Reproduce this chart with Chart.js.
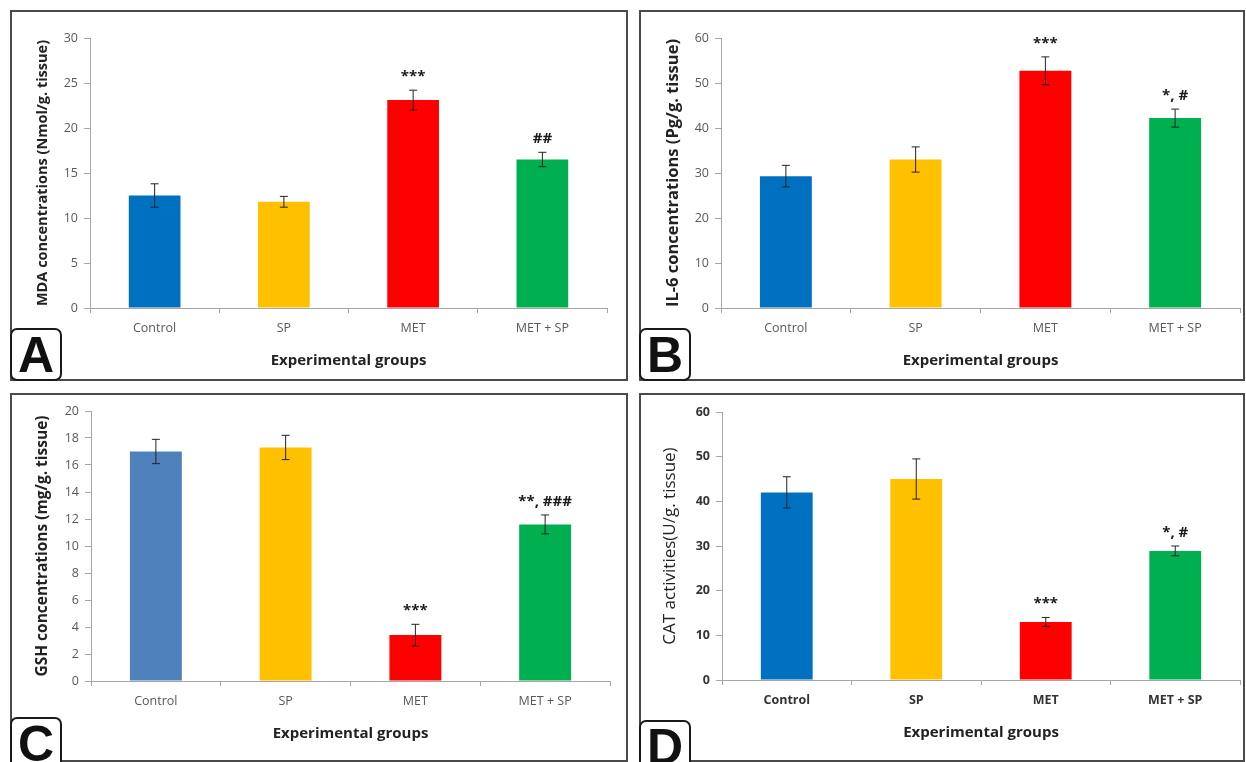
<!DOCTYPE html>
<html>
<head>
<meta charset="utf-8">
<script src="https://cdn.jsdelivr.net/npm/chart.js@4.4.0/dist/chart.umd.min.js"></script>
<style>
    html, body { margin: 0; padding: 0; background: #fff; overflow: hidden; }
    body { width: 1246px; height: 762px; position: relative; }
    .panel { position: absolute; }
    .frame { position: absolute; border: 2px solid #4a4a4a; box-sizing: border-box; pointer-events: none; }
    .letter {
        position: absolute; width: 52px; height: 53px; box-sizing: border-box;
        border: 2px solid #1a1a1a; border-radius: 7px; background: #fff;
        font: bold 50px "Liberation Sans", Arial, sans-serif; color: #111;
        display: flex; align-items: center; justify-content: center; line-height: 1;
    }
</style>
</head>
<body>
<script>
    // Groups on the x axis
    const groups = ['Control', 'SP', 'MET', 'MET + SP'];

    // A - MDA
    const mdaMeans = [12.5, 11.8, 23.1, 16.5];
    const mdaErrors = [1.3, 0.6, 1.1, 0.8];
    const mdaMarks = ['', '', '***', '##'];
    const mdaTicks = [0, 30, 5];

    // B - IL-6
    const il6Means = [29.3, 33.0, 52.7, 42.2];
    const il6Errors = [2.4, 2.8, 3.1, 2.0];
    const il6Marks = ['', '', '***', '*, #'];
    const il6Ticks = [0, 60, 10];

    // C - GSH
    const gshMeans = [17.0, 17.3, 3.4, 11.6];
    const gshErrors = [0.9, 0.9, 0.8, 0.7];
    const gshMarks = ['', '', '***', '**, ###'];
    const gshTicks = [0, 20, 2];

    // D - CAT
    const catMeans = [42.0, 45.0, 13.0, 28.9];
    const catErrors = [3.5, 4.5, 1.0, 1.1];
    const catMarks = ['', '', '***', '*, #'];
    const catTicks = [0, 60, 10];

    const FONT = '"Open Sans", Lato, sans-serif';
    const AXIS_GREY = '#a6a6a6';

    // error bars + significance marks, drawn from the y scale
    const errorBarPlugin = {
        id: 'errorBars',
        afterDatasetsDraw(chart, args, opts) {
            const ctx = chart.ctx;
            const yScale = chart.scales.y;
            const values = chart.data.datasets[0].data;
            chart.getDatasetMeta(0).data.forEach(function (bar, i) {
                const top = yScale.getPixelForValue(values[i] + opts.errors[i]);
                const bottom = yScale.getPixelForValue(values[i] - opts.errors[i]);
                ctx.save();
                ctx.strokeStyle = '#222';
                ctx.lineWidth = 1;
                ctx.beginPath();
                ctx.moveTo(bar.x, top); ctx.lineTo(bar.x, bottom);
                ctx.moveTo(bar.x - 4, top); ctx.lineTo(bar.x + 4, top);
                ctx.moveTo(bar.x - 4, bottom); ctx.lineTo(bar.x + 4, bottom);
                ctx.stroke();
                if (opts.marks[i]) {
                    ctx.fillStyle = '#1a1a1a';
                    ctx.font = 'bold 15px ' + FONT;
                    ctx.textAlign = 'center';
                    ctx.textBaseline = 'bottom';
                    ctx.fillText(opts.marks[i], bar.x, top - 6);
                }
                ctx.restore();
            });
        }
    };

    function makePanel(p) {
        const wrap = document.createElement('div');
        wrap.className = 'panel';
        Object.assign(wrap.style, { left: p.left + 'px', top: p.top + 'px', width: p.width + 'px', height: p.height + 'px' });
        const canvas = document.createElement('canvas');
        wrap.appendChild(canvas);
        document.body.appendChild(wrap);

        const frame = document.createElement('div');
        frame.className = 'frame';
        Object.assign(frame.style, { left: p.left + 'px', top: p.top + 'px', width: p.width + 'px', height: p.height + 'px' });
        document.body.appendChild(frame);

        const letter = document.createElement('div');
        letter.className = 'letter';
        letter.textContent = p.letter;
        Object.assign(letter.style, { left: p.left + 'px', top: (p.top + p.letterTop) + 'px' });
        document.body.appendChild(letter);

        const xTitleH = 62;
        const padLeft = (p.yTitleX - p.left) - p.yTitleSize * 1.2 / 2;
        const yWidth = (p.area[0] - p.left) - padLeft;
        const areaBottom = p.area[3] - p.top;
        const tickColor = p.boldTicks ? '#333' : '#595959';
        const tickWeight = p.boldTicks ? 'bold' : 'normal';

        new Chart(canvas.getContext('2d'), {
            type: 'bar',
            data: {
                labels: groups,
                datasets: [{
                    data: p.means,
                    backgroundColor: p.colors,
                    categoryPercentage: 1,
                    barPercentage: 0.4
                }]
            },
            options: {
                responsive: true,
                maintainAspectRatio: false,
                animation: false,
                layout: {
                    padding: {
                        left: padLeft,
                        top: p.area[2] - p.top,
                        right: (p.left + p.width) - p.area[1],
                        bottom: p.height - (areaBottom + xTitleH)
                    }
                },
                plugins: {
                    legend: { display: false },
                    tooltip: { enabled: false },
                    errorBars: { errors: p.errors, marks: p.marks }
                },
                scales: {
                    x: {
                        grid: { drawOnChartArea: false, tickLength: 5, color: AXIS_GREY, offset: true },
                        border: { color: AXIS_GREY },
                        ticks: { color: tickColor, padding: 8, font: { family: FONT, size: 12.5, weight: tickWeight } },
                        title: {
                            display: true, text: 'Experimental groups', color: '#222', padding: 0,
                            font: { family: FONT, size: 15, weight: 'bold' }
                        },
                        afterFit: function (s) { s.height = xTitleH; }
                    },
                    y: {
                        min: p.ticks[0],
                        max: p.ticks[1],
                        grid: { drawOnChartArea: false, tickLength: 6, color: AXIS_GREY },
                        border: { color: AXIS_GREY },
                        ticks: { stepSize: p.ticks[2], color: tickColor, padding: 6, font: { family: FONT, size: 12.5, weight: tickWeight } },
                        title: {
                            display: true, text: p.yTitle, color: '#222', padding: 0,
                            font: { family: FONT, size: p.yTitleSize, weight: p.yTitleBold ? 'bold' : 'normal' }
                        },
                        afterFit: function (s) { s.width = yWidth; }
                    }
                }
            },
            plugins: [errorBarPlugin]
        });
    }

    const mainColors = ['#0070C0', '#FFC000', '#FF0000', '#00B050'];
    const gshColors = ['#4F81BD', '#FFC000', '#FF0000', '#00B050'];

    makePanel({
        letter: 'A', left: 10, top: 10, width: 618, height: 371, letterTop: 318,
        area: [90, 607, 38, 308], yTitleX: 43, yTitleBold: true, yTitleSize: 14.5,
        yTitle: 'MDA concentrations (Nmol/g. tissue)',
        means: mdaMeans, errors: mdaErrors, marks: mdaMarks, ticks: mdaTicks, colors: mainColors
    });
    makePanel({
        letter: 'B', left: 639, top: 10, width: 606, height: 371, letterTop: 318,
        area: [721, 1240, 38, 308], yTitleX: 673, yTitleBold: true, yTitleSize: 16.5,
        yTitle: 'IL-6 concentrations (Pg/g. tissue)',
        means: il6Means, errors: il6Errors, marks: il6Marks, ticks: il6Ticks, colors: mainColors
    });
    makePanel({
        letter: 'C', left: 10, top: 393, width: 618, height: 369, letterTop: 324,
        area: [91, 610, 411, 681], yTitleX: 43, yTitleBold: true, yTitleSize: 15.5,
        yTitle: 'GSH concentrations (mg/g. tissue)',
        means: gshMeans, errors: gshErrors, marks: gshMarks, ticks: gshTicks, colors: gshColors
    });
    makePanel({
        letter: 'D', left: 639, top: 393, width: 606, height: 369, letterTop: 327,
        area: [722, 1240, 412, 680], yTitleX: 670, yTitleBold: false, yTitleSize: 17, boldTicks: true,
        yTitle: 'CAT activities(U/g. tissue)',
        means: catMeans, errors: catErrors, marks: catMarks, ticks: catTicks, colors: mainColors
    });
</script>
</body>
</html>
